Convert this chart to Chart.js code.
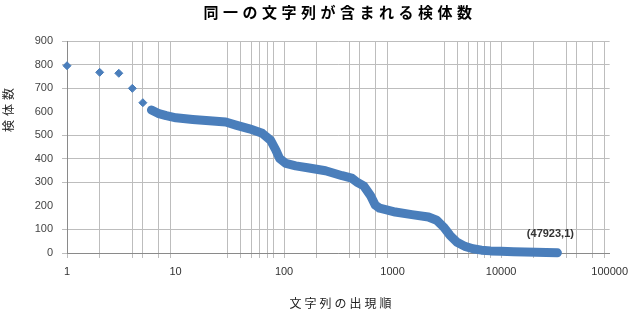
<!DOCTYPE html>
<html>
<head>
<meta charset="utf-8">
<script src="https://cdn.jsdelivr.net/npm/chart.js@4"></script>
<style>
  html, body { margin: 0; padding: 0; background: #fff; }
  #chart { display: block; }
</style>
</head>
<body>
<canvas id="chart" width="635" height="314"></canvas>
<script>
// chart texts
const titleText = '同一の文字列が含まれる検体数'
const xTitleText = '文字列の出現順'
const yTitleText = '検体数'
const lastLabel = '(47923,1)'

// first few ranks, drawn as separate markers
const earlyRank = [1, 2, 3, 4, 5, 6]
const earlyCount = [795, 767, 763, 699, 638, 607]

// dense part of the curve (read along the middle of the band)
const bandRank = [6, 6.9, 8.2, 10.1, 14.4, 20.5, 29, 36, 48, 63, 75, 84, 91, 104, 128, 170, 241,
    343, 420, 471, 542, 624, 693, 760, 900, 1059, 1504, 2140, 2550, 2940, 3380, 3890, 4640,
    5500, 6600, 8000, 10000, 13000, 16500, 21000, 26000, 33000]
const bandCount = [607, 593, 583, 574, 567, 561, 556, 543, 527, 508, 479, 437, 401, 380, 370, 361, 349,
    328, 318, 300, 285, 245, 203, 190, 182, 174, 163, 153, 139, 111, 75, 47, 28,
    18, 12, 9, 7, 5, 4, 3, 2, 1]

// axis ticks / gridlines as they show in the picture
const xGridRanks = [1, 2, 4, 5, 7, 9, 10, 30, 40, 50, 60, 70, 80, 100, 200, 400, 500, 700, 900, 1000,
    3000, 4000, 5000, 6000, 7000, 8000, 10000, 20000, 40000, 50000, 70000, 90000, 100000]
const xNoLine = [10, 1000, 100000]
const yTicks = [0, 100, 200, 300, 400, 500, 600, 700, 800, 900]
const yNoLine = [200, 600]

const blue = '#4a7ebb'
const gridGrey = '#bdbdbd'

const textPlugin = {
    id: 'texts',
    beforeDraw(chart) {
        const ctx = chart.ctx
        ctx.save()
        ctx.fillStyle = '#fff'
        ctx.fillRect(0, 0, chart.width, chart.height)
        ctx.restore()
    },
    afterDraw(chart) {
        const ctx = chart.ctx
        ctx.save()
        ctx.textAlign = 'center'
        ctx.textBaseline = 'middle'

        // title
        ctx.fillStyle = '#000'
        ctx.font = 'bold 15px "Noto Sans CJK JP"'
        ctx.letterSpacing = '4.5px'
        ctx.fillText(titleText, 340, 12)

        // x axis title
        ctx.fillStyle = '#222'
        ctx.font = '12px "Noto Sans CJK JP"'
        ctx.letterSpacing = '3px'
        ctx.fillText(xTitleText, 342, 303)

        // y axis title
        ctx.save()
        ctx.translate(8, 110)
        ctx.rotate(-Math.PI / 2)
        ctx.font = '12px "Noto Sans CJK JP"'
        ctx.letterSpacing = '4px'
        ctx.fillText(yTitleText, 2, 0)
        ctx.restore()

        // label of the last point
        ctx.letterSpacing = '0px'
        const xs = chart.scales.x
        const ys = chart.scales.y
        const n = bandRank.length - 1
        ctx.fillStyle = '#333'
        ctx.font = 'bold 11px "Liberation Sans"'
        ctx.fillText(lastLabel, xs.getPixelForValue(bandRank[n]) - 7, ys.getPixelForValue(bandCount[n]) - 19)
        ctx.restore()
    }
}

new Chart(document.getElementById('chart').getContext('2d'), {
    type: 'scatter',
    data: {
        datasets: [{
            data: earlyRank.map((r, i) => ({ x: r, y: earlyCount[i] })),
            backgroundColor: blue,
            borderColor: blue,
            pointStyle: 'rectRot',
            pointRadius: 4,
            clip: false
        }, {
            data: bandRank.map((r, i) => ({ x: r, y: bandCount[i] })),
            showLine: true,
            borderColor: blue,
            borderWidth: 9,
            borderCapStyle: 'round',
            borderJoinStyle: 'round',
            backgroundColor: blue,
            pointRadius: 0,
            tension: 0,
            clip: false
        }]
    },
    options: {
        responsive: false,
        animation: false,
        devicePixelRatio: 1,
        layout: { padding: { top: 41, right: 23, left: 0, bottom: 0 } },
        plugins: {
            legend: { display: false },
            tooltip: { enabled: false }
        },
        scales: {
            x: {
                type: 'logarithmic',
                min: 1,
                max: 100000,
                afterBuildTicks: (scale) => { scale.ticks = xGridRanks.map(v => ({ value: v })) },
                afterFit: (scale) => { scale.height = 61 },
                grid: {
                    color: (c) => (c.tick && xNoLine.includes(c.tick.value)) ? 'rgba(0,0,0,0)' : gridGrey,
                    tickLength: 5
                },
                border: { color: '#8a8a8a' },
                ticks: {
                    autoSkip: false,
                    maxRotation: 0,
                    padding: 7,
                    color: '#333',
                    font: { family: 'Liberation Sans', size: 11 },
                    callback: (v) => Number.isInteger(Math.log10(v)) ? String(v) : ''
                }
            },
            y: {
                min: 0,
                max: 900,
                afterBuildTicks: (scale) => { scale.ticks = yTicks.map(v => ({ value: v })) },
                afterFit: (scale) => { scale.width = 67 },
                grid: {
                    color: (c) => (c.tick && yNoLine.includes(c.tick.value)) ? 'rgba(0,0,0,0)' : gridGrey,
                    tickLength: 5
                },
                border: { color: '#8a8a8a' },
                ticks: {
                    padding: 9,
                    color: '#444',
                    font: { family: 'Liberation Sans', size: 11 }
                }
            }
        }
    },
    plugins: [textPlugin]
})
</script>
</body>
</html>
